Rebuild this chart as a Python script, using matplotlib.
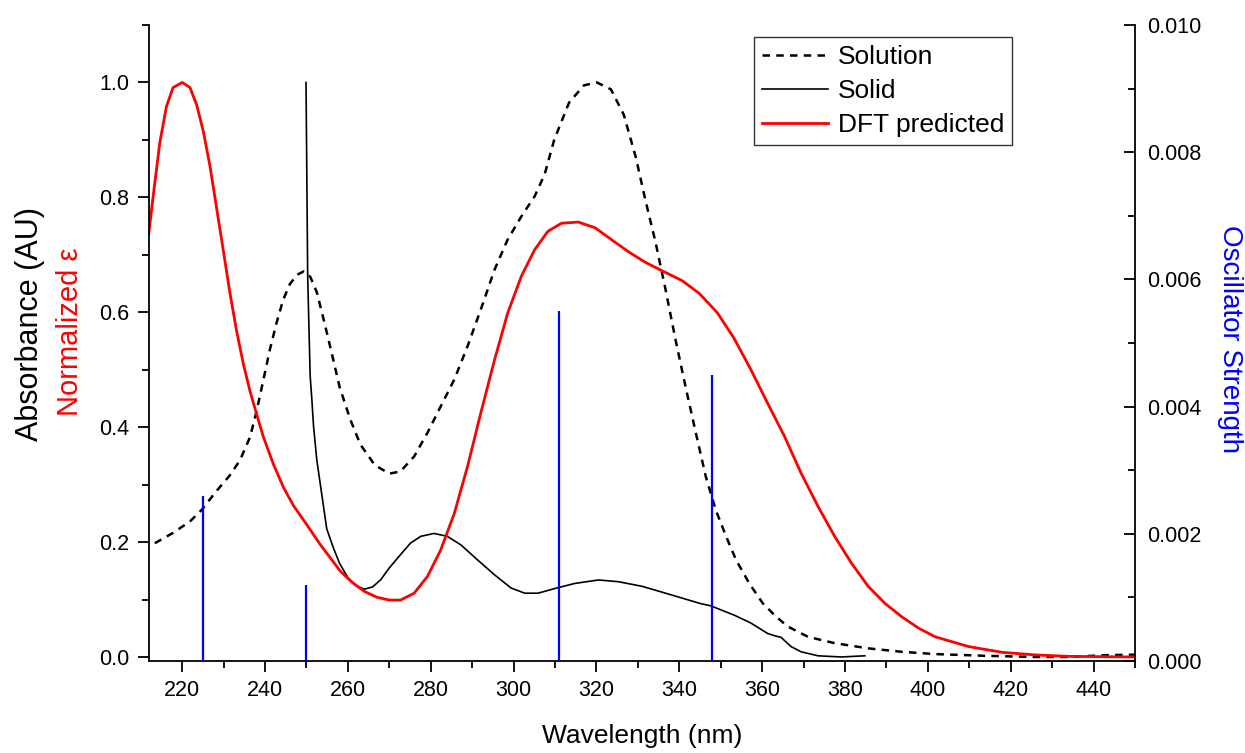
import matplotlib
matplotlib.use("Agg")
import matplotlib.pyplot as plt
from matplotlib.ticker import MultipleLocator, FormatStrFormatter

plt.rcParams['font.family'] = ['Liberation Sans', 'DejaVu Sans']

# Solution (dashed) spectrum
sol_x = [213.4, 217.8, 221.9, 224.7, 228.3, 231.5, 234.0, 236.4, 238.0, 239.6, 241.2,
         242.8, 244.4, 246.0, 247.7, 249.3, 250.9, 252.5, 254.1, 256.1, 258.0, 260.5,
         263.0, 266.5, 270.0, 272.7, 276.0, 279.2, 282.4, 285.7, 288.9, 292.1, 295.4,
         298.6, 301.9, 305.1, 307.5, 309.8, 313.4, 317.0, 320.1, 323.5, 326.6, 329.5,
         331.8, 334.3, 336.7, 339.1, 341.5, 344.0, 346.4, 348.8, 351.3, 353.7, 356.9,
         360.2, 363.4, 366.2, 371.1, 377.5, 385.6, 393.7, 401.8, 414.0, 426.1, 434.2,
         442.3, 450.0]
sol_y = [0.198, 0.216, 0.236, 0.256, 0.289, 0.316, 0.343, 0.383, 0.429, 0.482, 0.536,
         0.582, 0.622, 0.649, 0.665, 0.671, 0.662, 0.635, 0.589, 0.529, 0.470, 0.415,
         0.370, 0.334, 0.319, 0.323, 0.349, 0.390, 0.436, 0.483, 0.541, 0.605, 0.674,
         0.727, 0.767, 0.802, 0.840, 0.900, 0.965, 0.995, 1.000, 0.988, 0.944, 0.870,
         0.796, 0.721, 0.639, 0.552, 0.471, 0.390, 0.314, 0.256, 0.210, 0.169, 0.128,
         0.093, 0.070, 0.053, 0.035, 0.024, 0.015, 0.009, 0.005, 0.002, 0.000, 0.000,
         0.003, 0.004]

# Solid (thin black) spectrum
solid_x = [249.9, 250.3, 250.9, 251.3, 251.7, 252.5, 253.7, 254.9, 256.5, 258.0, 260.0,
           262.0, 264.0, 266.0, 268.0, 270.0, 272.7, 275.1, 277.6, 280.8, 284.0, 287.3,
           291.3, 295.4, 299.4, 302.7, 305.9, 310.4, 314.8, 320.5, 325.3, 331.0, 336.7,
           342.3, 345.1, 347.6, 353.2, 357.3, 361.3, 363.0, 364.6, 367.0, 369.4, 373.5,
           379.1, 384.8]
solid_y = [1.000, 0.662, 0.489, 0.449, 0.403, 0.343, 0.283, 0.223, 0.190, 0.163, 0.138,
           0.124, 0.118, 0.122, 0.135, 0.155, 0.178, 0.198, 0.210, 0.215, 0.210, 0.195,
           0.169, 0.143, 0.120, 0.111, 0.111, 0.120, 0.128, 0.134, 0.131, 0.123, 0.111,
           0.099, 0.093, 0.089, 0.073, 0.059, 0.041, 0.037, 0.034, 0.018, 0.009, 0.002,
           0.000, 0.002]

# DFT predicted (red) spectrum
dft_x = [211.9, 213.0, 214.6, 216.2, 217.8, 220.0, 221.9, 223.5, 225.1, 226.7, 228.3,
         229.9, 231.5, 233.1, 234.8, 236.4, 238.0, 239.6, 242.0, 244.4, 246.9, 250.1,
         253.3, 255.7, 258.1, 261.0, 264.0, 267.0, 270.0, 272.7, 276.0, 279.2, 282.4,
         285.7, 288.9, 292.1, 295.4, 298.6, 301.9, 305.1, 308.3, 311.6, 315.6, 319.7,
         323.7, 327.8, 331.8, 335.9, 340.7, 344.8, 349.2, 353.2, 357.3, 361.3, 365.4,
         369.4, 373.5, 377.5, 381.6, 385.6, 389.7, 393.7, 397.8, 401.8, 409.9, 418.0,
         426.1, 434.2, 450.0]
dft_y = [0.735, 0.802, 0.895, 0.958, 0.991, 1.000, 0.991, 0.961, 0.915, 0.855, 0.782,
         0.709, 0.635, 0.569, 0.509, 0.462, 0.422, 0.383, 0.336, 0.296, 0.263, 0.230,
         0.196, 0.173, 0.150, 0.130, 0.114, 0.104, 0.099, 0.099, 0.111, 0.140, 0.186,
         0.250, 0.332, 0.425, 0.517, 0.599, 0.663, 0.709, 0.741, 0.755, 0.757, 0.747,
         0.726, 0.705, 0.687, 0.672, 0.655, 0.633, 0.599, 0.555, 0.500, 0.442, 0.384,
         0.320, 0.262, 0.210, 0.163, 0.123, 0.093, 0.070, 0.050, 0.035, 0.018, 0.008,
         0.0035, 0.001, 0.000]

# Oscillator strengths (blue sticks, right axis)
osc_x = [225, 250, 311, 348]
osc_f = [0.0026, 0.0012, 0.0055, 0.0045]

fig = plt.figure(figsize=(12.45, 7.53), dpi=100)
ax = fig.add_axes([0.1197, 0.1222, 0.7919, 0.8446])
ax2 = ax.twinx()

ax.plot(sol_x, sol_y, color='black', lw=1.8, linestyle=(0, (3, 2.5)), label='Solution')
ax.plot(solid_x, solid_y, color='black', lw=1.2, label='Solid')
ax.plot(dft_x, dft_y, color='#ff0000', lw=2.0, label='DFT predicted')

ax2.vlines(osc_x, 0, osc_f, color='#0000ff', lw=1.6)

ax.set_xlim(212, 450)
ax.set_ylim(-0.007, 1.10)
ax2.set_ylim(0, 0.010)

ax.xaxis.set_major_locator(MultipleLocator(20))
ax.xaxis.set_minor_locator(MultipleLocator(10))
ax.yaxis.set_major_locator(MultipleLocator(0.2))
ax.yaxis.set_minor_locator(MultipleLocator(0.1))
ax.yaxis.set_major_formatter(FormatStrFormatter('%.1f'))
ax2.yaxis.set_major_locator(MultipleLocator(0.002))
ax2.yaxis.set_minor_locator(MultipleLocator(0.001))
ax2.yaxis.set_major_formatter(FormatStrFormatter('%.3f'))

for a in (ax, ax2):
    a.spines['top'].set_visible(False)
    for s in a.spines.values():
        s.set_linewidth(1.3)
ax.spines['right'].set_visible(False)
ax2.spines['left'].set_visible(False)
ax2.spines['bottom'].set_visible(False)

ax.tick_params(axis='both', which='major', direction='out', length=8, width=1.3,
               labelsize=15.5, pad=6)
ax.tick_params(axis='both', which='minor', direction='out', length=5, width=1.3)
ax2.tick_params(axis='y', which='major', direction='in', length=8, width=1.3,
                labelsize=15.5, pad=9)
ax2.tick_params(axis='y', which='minor', direction='in', length=5, width=1.3)

ax.set_xlabel('Wavelength (nm)', fontsize=19, labelpad=16)
fig.text(0.024, 0.57, 'Absorbance (AU)', rotation=90, fontsize=22,
         ha='center', va='center', color='black')
fig.text(0.056, 0.56, 'Normalized \u03b5', rotation=90, fontsize=21,
         ha='center', va='center', color='#ff0000')
fig.text(0.988, 0.55, 'Oscillator Strength', rotation=270, fontsize=20,
         ha='center', va='center', color='#0000ff')

leg = ax.legend(loc='upper left', bbox_to_anchor=(0.614, 0.981), fontsize=19,
                frameon=True, fancybox=False, edgecolor='#333333', framealpha=1,
                handlelength=2.5, handletextpad=0.35, borderpad=0.3,
                labelspacing=0.38, borderaxespad=0)
leg.get_frame().set_linewidth(1.0)

fig.savefig('out.png', dpi=100)
